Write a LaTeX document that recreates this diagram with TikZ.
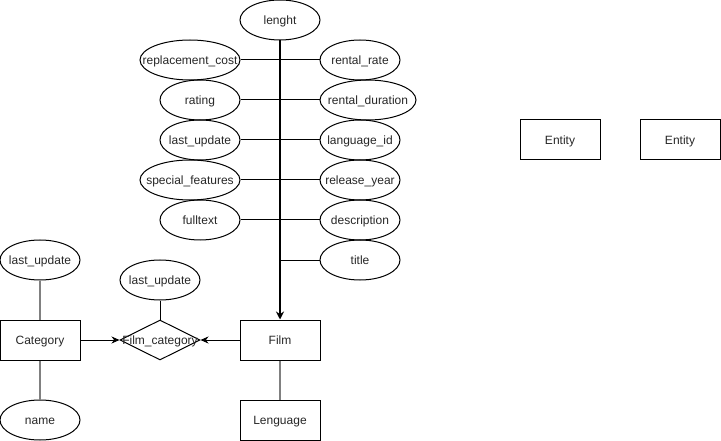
\documentclass[tikz,border=0pt]{standalone}
\usepackage{fontspec}
\setmainfont{Liberation Sans}
\usetikzlibrary{shapes.geometric,arrows.meta}
% zero-width text so the label never enlarges its shape
\newcommand\zw[1]{\makebox[0pt]{#1}}
\begin{document}
\begin{tikzpicture}[x=1pt,y=-1pt,
  lbl/.style={font=\fontsize{12}{14}\selectfont,text=black!85,text height=11pt,text depth=2pt},
  attr/.style={lbl,ellipse,draw,line width=1pt,minimum width=80pt,minimum height=40pt,inner sep=0pt},
  wide/.style={attr,minimum width=100pt},
  ent/.style={lbl,rectangle,draw,line width=1pt,minimum width=80pt,minimum height=40pt,inner sep=0pt},
  rel/.style={lbl,diamond,draw,line width=1pt,minimum width=80pt,minimum height=40pt,inner sep=0pt,aspect=2},
  link/.style={line width=1pt},
  glink/.style={line width=1.5pt,draw=black!50},
  arr/.style={line width=1pt,-{Stealth[length=8pt,width=7pt]}},
  bigarr/.style={line width=2pt,-{Stealth[length=8pt,width=8pt]}}]
\useasboundingbox (0,0) rectangle (721,441);

% Film attributes
\node[attr] (len) at (280,20) {\zw{lenght}};
\node[wide] (rc) at (190,60) {\zw{replacement\_cost}};
\node[attr] (rr) at (360,60) {\zw{rental\_rate}};
\node[attr] (rt) at (200,100) {\zw{rating}};
\node[attr,minimum width=96pt] (rd) at (368,100) {\zw{rental\_duration}};
\node[attr] (lu) at (200,140) {\zw{last\_update}};
\node[attr] (li) at (360,140) {\zw{language\_id}};
\node[wide] (sf) at (190,180) {\zw{special\_features}};
\node[attr] (ry) at (360,180) {\zw{release\_year}};
\node[attr] (ft) at (200,220) {\zw{fulltext}};
\node[attr] (de) at (360,220) {\zw{description}};
\node[attr] (ti) at (360,260) {\zw{title}};
\coordinate (tj) at (280,260);

% Entities and relationship
\node[ent] (film) at (280,340) {\zw{Film}};
\node[ent] (leng) at (280,420) {\zw{Lenguage}};
\node[ent] (cat) at (40,340) {\zw{Category}};
\node[attr] (clu) at (40,260) {\zw{last\_update}};
\node[attr] (cnm) at (40,420) {\zw{name}};
\node[rel] (fc) at (160,340) {\zw{Film\_category}};
\node[attr] (flu) at (160,280) {\zw{last\_update}};
\node[ent] (e1) at (560,140) {\zw{Entity}};
\node[ent] (e2) at (680,140) {\zw{Entity}};

% attribute links
\draw[link] (rc.east) -- (rr.west);
\draw[link] (rt.east) -- (rd.west);
\draw[link] (lu.east) -- (li.west);
\draw[link] (sf.east) -- (ry.west);
\draw[link] (ft.east) -- (de.west);
\draw[link] (tj) -- (ti.west);
\draw[bigarr] (len.south) -- (film.north);

\draw[glink] (clu.south) -- (cat.north);
\draw[glink] (cat.south) -- (cnm.north);
\draw[glink] (film.south) -- (leng.north);
\draw[link] (flu.south) -- (fc.north);

\draw[arr] (cat.east) -- (fc.west);
\draw[arr] (film.west) -- (fc.east);
\end{tikzpicture}
\end{document}
